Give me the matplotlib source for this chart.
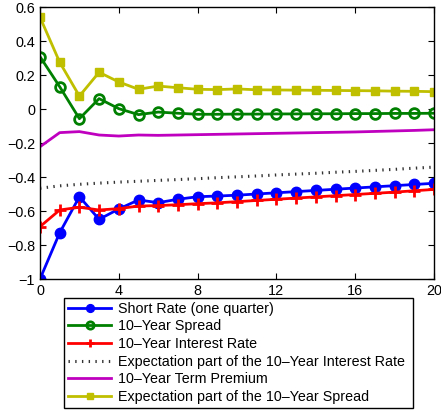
import numpy as np
import matplotlib
matplotlib.use('Agg')
from matplotlib import pyplot as plt

plt.rcParams['font.family'] = ['Liberation Sans', 'DejaVu Sans']

quarters = np.arange(0, 21)

short_rate = [-1.0, -0.728, -0.516, -0.649, -0.588, -0.535, -0.551, -0.531, -0.516, -0.512,
              -0.507, -0.500, -0.493, -0.486, -0.479, -0.472, -0.465, -0.458, -0.451, -0.444, -0.437]
spread_10y = [0.308, 0.131, -0.057, 0.061, 0.002, -0.033, -0.018, -0.025, -0.031, -0.031,
              -0.030, -0.030, -0.029, -0.029, -0.028, -0.028, -0.027, -0.027, -0.026, -0.026, -0.025]
rate_10y = [-0.692, -0.594, -0.578, -0.594, -0.586, -0.571, -0.568, -0.563, -0.557, -0.552,
            -0.545, -0.538, -0.531, -0.524, -0.517, -0.510, -0.503, -0.496, -0.489, -0.481, -0.473]
expect_rate_10y = [-0.466, -0.452, -0.443, -0.436, -0.430, -0.425, -0.420, -0.415, -0.410, -0.404,
                   -0.399, -0.394, -0.388, -0.383, -0.378, -0.372, -0.367, -0.361, -0.355, -0.348, -0.342]
term_premium = [-0.222, -0.139, -0.133, -0.153, -0.159, -0.153, -0.155, -0.153, -0.151, -0.149,
                -0.147, -0.145, -0.143, -0.141, -0.139, -0.137, -0.135, -0.132, -0.129, -0.126, -0.122]
expect_spread_10y = [0.540, 0.275, 0.076, 0.216, 0.159, 0.116, 0.135, 0.125, 0.116, 0.114,
                     0.118, 0.113, 0.112, 0.111, 0.110, 0.109, 0.108, 0.107, 0.105, 0.104, 0.102]

labels = ['Short Rate (one quarter)', '10\u2013Year Spread', '10\u2013Year Interest Rate',
          'Expectation part of the 10\u2013Year Interest Rate', '10\u2013Year Term Premium',
          'Expectation part of the 10\u2013Year Spread']

fig = plt.figure(figsize=(4.41, 4.11), dpi=100)
ax = fig.add_axes([40 / 441, 132 / 411, 394 / 441, 272 / 411])

ax.plot(quarters, short_rate, color='b', lw=2, marker='o', ms=7.5, label=labels[0])
ax.plot(quarters, spread_10y, color=(0, 0.5, 0), lw=2, marker='o', ms=7, mfc='none', mew=2, label=labels[1])
ax.plot(quarters, rate_10y, color='r', lw=2, marker='+', ms=8, mew=2, label=labels[2])
ax.plot(quarters, expect_rate_10y, color='0.2', lw=2.2, ls=(0, (0.45, 1.75)), label=labels[3])
ax.plot(quarters, term_premium, color=(0.75, 0, 0.75), lw=2, label=labels[4])
ax.plot(quarters, expect_spread_10y, color=(0.75, 0.75, 0), lw=2, marker='s', ms=5.5, label=labels[5])

ax.set_xlim(0, 20)
ax.set_ylim(-1, 0.6)
ax.set_xticks([0, 4, 8, 12, 16, 20])
ax.set_yticks(np.arange(-1, 0.61, 0.2))
ax.set_yticklabels(['\u22121', '\u22120.8', '\u22120.6', '\u22120.4', '\u22120.2', '0', '0.2', '0.4', '0.6'])
ax.tick_params(direction='in', top=True, right=True, labelsize=10.4, length=4)
for s in ax.spines.values():
    s.set_linewidth(1)

leg = fig.legend(loc='lower left', bbox_to_anchor=(64 / 441, 3 / 411, 349 / 441, 113 / 411),
                 mode='expand', fontsize=10.3, fancybox=False, edgecolor='k', framealpha=1,
                 handlelength=3.0, labelspacing=0.25, borderaxespad=0, borderpad=0.3,
                 handletextpad=0.5, markerscale=0.75)
leg.get_frame().set_linewidth(1)

fig.savefig('out.png', dpi=100)
